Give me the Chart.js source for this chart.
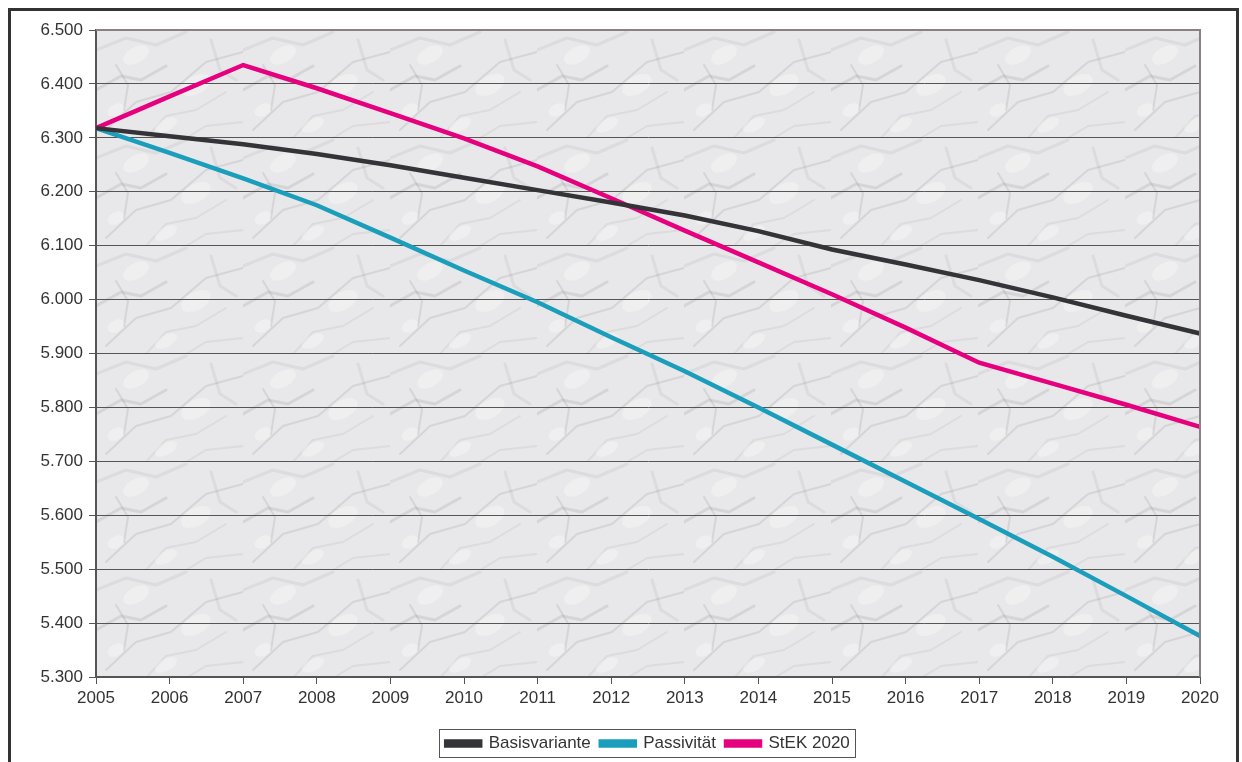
<!DOCTYPE html>
<html>
<head>
<meta charset="utf-8">
<script src="https://cdn.jsdelivr.net/npm/chart.js@4.4.1/dist/chart.umd.min.js"></script>
<style>
  html, body { margin: 0; padding: 0; background: #ffffff; }
  #wrap { width: 1242px; height: 762px; position: relative; }
</style>
</head>
<body>
<div id="wrap"><canvas id="c" width="1242" height="762"></canvas></div>
<script>
const years = ["2005","2006","2007","2008","2009","2010","2011","2012","2013","2014","2015","2016","2017","2018","2019","2020"];
const basisvariante = [6.318, 6.303, 6.288, 6.270, 6.249, 6.226, 6.203, 6.180, 6.156, 6.127, 6.093, 6.065, 6.036, 6.004, 5.970, 5.937];
const passivitaet   = [6.318, 6.272, 6.225, 6.175, 6.115, 6.054, 5.995, 5.930, 5.867, 5.800, 5.731, 5.662, 5.593, 5.523, 5.450, 5.376];
const stek2020      = [6.318, 6.377, 6.435, 6.392, 6.346, 6.299, 6.247, 6.188, 6.128, 6.069, 6.010, 5.948, 5.883, 5.844, 5.805, 5.764];
const yMin = 5.3, yMax = 6.5, yStep = 0.1;

const FONT = "'Liberation Sans', Arial, Helvetica, sans-serif";

// decorative marble-like tile for the plot background
function makeTile() {
  const t = document.createElement('canvas');
  t.width = 147; t.height = 108;
  const c = t.getContext('2d');
  c.fillStyle = '#e8e8ea';
  c.fillRect(0, 0, 147, 108);
  c.lineCap = 'round';
  c.lineJoin = 'round';
  const veins = [
    [[0, 20], [30, 8], [60, 15], [90, 2]],
    [[10, 100], [40, 72], [75, 62], [110, 32], [147, 22]],
    [[50, 108], [70, 86], [100, 80], [130, 62]],
    [[0, 60], [25, 46], [45, 50], [70, 36]],
    [[90, 108], [110, 96], [147, 92]],
    [[20, 35], [32, 55], [28, 80]],
    [[115, 10], [124, 40], [140, 50]]
  ];
  veins.forEach((v, k) => {
    c.strokeStyle = k % 2 ? 'rgba(120,120,125,0.16)' : 'rgba(140,140,145,0.13)';
    c.lineWidth = k % 3 === 0 ? 3 : 2;
    c.beginPath();
    c.moveTo(v[0][0], v[0][1]);
    for (let i = 1; i < v.length; i++) c.lineTo(v[i][0], v[i][1]);
    c.stroke();
  });
  c.fillStyle = 'rgba(255,255,255,0.3)';
  [[40, 25, 14, 8], [100, 55, 16, 9], [70, 95, 12, 6], [20, 80, 9, 6]].forEach(e => {
    c.beginPath(); c.ellipse(e[0], e[1], e[2], e[3], -0.5, 0, Math.PI * 2); c.fill();
  });
  return t;
}

const LEGEND_SHIFT = 43;

const framePlugin = {
  id: 'frame',
  afterLayout(chart) {
    const lg = chart.legend;
    if (lg) {
      lg.left += LEGEND_SHIFT;
      lg.right += LEGEND_SHIFT;
    }
  },
  beforeDraw(chart) {
    const ctx = chart.ctx;
    const a = chart.chartArea;
    ctx.save();
    ctx.fillStyle = '#ffffff';
    ctx.fillRect(0, 0, chart.width, chart.height);
    ctx.strokeStyle = '#333333';
    ctx.lineWidth = 3;
    ctx.strokeRect(9.5, 9.5, 1228, 800);
    const pat = ctx.createPattern(makeTile(), 'repeat');
    ctx.translate(a.left, a.top);
    ctx.fillStyle = pat;
    ctx.fillRect(0, 0, a.right - a.left, a.bottom - a.top);
    ctx.restore();
  },
  afterDatasetsDraw(chart) {
    const ctx = chart.ctx;
    const a = chart.chartArea;
    ctx.save();
    ctx.strokeStyle = '#8a8282';
    ctx.lineWidth = 2;
    ctx.beginPath();
    ctx.moveTo(a.left, a.top);
    ctx.lineTo(a.right, a.top);
    ctx.lineTo(a.right, a.bottom);
    ctx.stroke();
    ctx.restore();
  },
  afterDraw(chart) {
    const lg = chart.legend;
    if (!lg || !lg.legendHitBoxes || !lg.legendHitBoxes.length) return;
    const hb = lg.legendHitBoxes;
    let l = Infinity, r = -Infinity, t = Infinity, b = -Infinity;
    hb.forEach(h => { l = Math.min(l, h.left); r = Math.max(r, h.left + h.width); t = Math.min(t, h.top); b = Math.max(b, h.top + h.height); });
    const ctx = chart.ctx;
    ctx.save();
    ctx.strokeStyle = '#555555';
    ctx.lineWidth = 1;
    ctx.strokeRect(Math.round(l - 7) + 0.5, Math.round(t - 6) + 0.5, Math.round(r - l + 12), Math.round(b - t + 11));
    ctx.restore();
  }
};

new Chart(document.getElementById('c'), {
  type: 'line',
  data: {
    labels: years,
    datasets: [
      { label: 'Basisvariante', data: basisvariante, borderColor: '#333338', backgroundColor: '#333338', borderWidth: 4.5, pointRadius: 0, tension: 0 },
      { label: 'Passivität', data: passivitaet, borderColor: '#1a9ebb', backgroundColor: '#1a9ebb', borderWidth: 4.5, pointRadius: 0, tension: 0 },
      { label: 'StEK 2020', data: stek2020, borderColor: '#e6007e', backgroundColor: '#e6007e', borderWidth: 4.5, pointRadius: 0, tension: 0 }
    ]
  },
  options: {
    responsive: false,
    animation: false,
    devicePixelRatio: 1,
    layout: { padding: { left: 10, right: 42, top: 30, bottom: 0 } },
    plugins: {
      tooltip: { enabled: false },
      legend: {
        position: 'bottom',
        labels: {
          font: { family: FONT, size: 17 },
          color: '#333333',
          boxWidth: 34,
          boxHeight: 4,
          padding: 10
        }
      }
    },
    scales: {
      x: {
        offset: false,
        grid: { display: true, drawOnChartArea: false, drawTicks: true, tickLength: 7, color: '#555555', lineWidth: 1 },
        border: { display: true, color: '#555555', width: 2 },
        ticks: { font: { family: FONT, size: 17 }, color: '#333333', padding: 4, maxRotation: 0, autoSkip: false },
        afterFit(scale) { scale.height = 48; }
      },
      y: {
        min: yMin, max: yMax,
        grid: { display: true, drawOnChartArea: true, drawTicks: true, tickLength: 7, color: '#555555', lineWidth: 1 },
        border: { display: true, color: '#555555', width: 2 },
        ticks: {
          stepSize: yStep,
          font: { family: FONT, size: 17 },
          color: '#333333',
          padding: 6,
          callback: v => v.toFixed(3)
        },
        afterFit(scale) { scale.width = 86; }
      }
    }
  },
  plugins: [framePlugin]
});
</script>
</body>
</html>
